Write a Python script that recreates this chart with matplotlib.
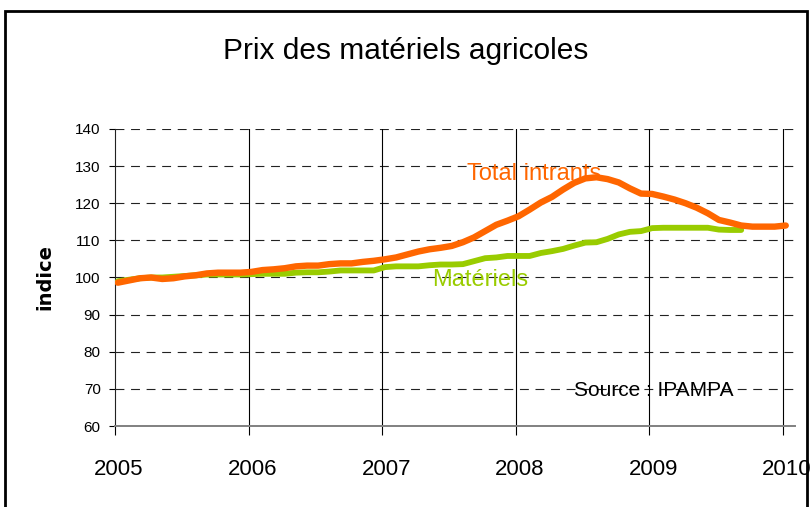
import numpy as np
import matplotlib
matplotlib.use("Agg")
import matplotlib.pyplot as plt
from matplotlib.patches import Rectangle
from matplotlib.transforms import ScaledTranslation

# monthly index values, Jan 2005 -> Jan 2010
total_intrants = [
    98.6, 99.2, 99.8, 100.0, 99.6, 99.8, 100.3, 100.6, 101.1, 101.3, 101.3, 101.3,
    101.5, 102.0, 102.2, 102.5, 103.0, 103.2, 103.2, 103.6, 103.8, 103.8, 104.2, 104.5,
    104.9, 105.4, 106.2, 107.0, 107.6, 108.0, 108.5, 109.5, 110.8, 112.5, 114.2, 115.3,
    116.5, 118.3, 120.2, 121.7, 123.7, 125.5, 126.7, 127.0, 126.5, 125.6, 124.0, 122.6,
    122.5, 121.8, 121.0, 120.0, 118.8, 117.3, 115.5, 114.8, 114.0, 113.7, 113.7, 113.7,
    114.0,
]
materiels = [
    99.0, 99.4, 99.8, 100.0, 100.0, 100.2, 100.4, 100.6, 100.8, 100.8, 100.8, 100.8,
    100.9, 101.0, 101.0, 101.0, 101.3, 101.4, 101.4, 101.6, 101.9, 101.9, 101.9, 101.9,
    102.8, 103.0, 103.0, 103.0, 103.3, 103.5, 103.5, 103.6, 104.4, 105.2, 105.4, 105.8,
    105.8, 105.8, 106.6, 107.1, 107.7, 108.6, 109.4, 109.5, 110.4, 111.6, 112.3, 112.5,
    113.3, 113.4, 113.4, 113.4, 113.4, 113.4, 112.9, 112.8, 112.8,
]
years = [2005, 2006, 2007, 2008, 2009, 2010]
yticks = [60, 70, 80, 90, 100, 110, 120, 130, 140]

C_TOT = "#ff6600"
C_MAT = "#99cc00"

t_tot = 2005 + (np.arange(len(total_intrants)) + 0.25) / 12
t_mat = 2005 + (np.arange(len(materiels)) + 0.25) / 12

fig = plt.figure(figsize=(8.11, 5.07), dpi=100)
ax = fig.add_axes([115 / 811, 81 / 507, 680 / 811, 297 / 507])

ax.plot(t_mat, materiels, color=C_MAT, lw=4.2, solid_capstyle="round", zorder=3)
ax.plot(t_tot, total_intrants, color=C_TOT, lw=4.6, solid_capstyle="round", zorder=4)

ax.set_xlim(2005, 2010.09)
ax.set_ylim(60, 140)

# dashed horizontal grid
for v in yticks[1:]:
    ax.axhline(v, color="#222222", lw=0.8, ls=(0, (8, 6)), zorder=1)
# solid year lines
for yr in years[1:]:
    ax.axvline(yr, color="black", lw=0.8, zorder=1)

ax.set_xticks(years)
ax.set_xticklabels([str(y) for y in years], fontsize=16, family="Liberation Sans")
ax.set_yticks(yticks)
ax.set_yticklabels([str(v) for v in yticks], fontsize=11, family="Liberation Sans")
ax.tick_params(axis="x", direction="out", length=6.5, width=0.8, pad=17)
ax.tick_params(axis="y", direction="out", length=4.3, width=0.8, pad=6)
shift = ScaledTranslation(4 / 100, 0, fig.dpi_scale_trans)
for lab in ax.get_xticklabels():
    lab.set_transform(lab.get_transform() + shift)

for s in ("top", "right"):
    ax.spines[s].set_visible(False)
ax.spines["left"].set_color("#222222")
ax.spines["left"].set_linewidth(0.8)
ax.spines["bottom"].set_color("#808080")
ax.spines["bottom"].set_linewidth(1.4)

ax.text(2008.14, 126.2, "Total intrants", color=C_TOT, fontsize=17,
        family="Liberation Sans", ha="center", va="baseline", zorder=5)
ax.text(2007.73, 97.65, "Matériels", color=C_MAT, fontsize=17,
        family="Liberation Sans", ha="center", va="baseline", zorder=5)
ax.text(2009.03, 68.1, "Source : IPAMPA", color="black", fontsize=15,
        family="Liberation Sans", ha="center", va="baseline", zorder=5)

fig.text(406 / 811, 1 - 51 / 507, "Prix des matériels agricoles", fontsize=21.5,
         family="Liberation Sans", ha="center", va="center")
fig.text(45 / 811, 1 - 277 / 507, "indice", fontsize=14, fontweight="bold",
         family="DejaVu Sans", rotation=90, ha="center", va="center")

fig.add_artist(Rectangle((5 / 811, -0.05), 802 / 811, 1.05 - 11 / 507,
                         transform=fig.transFigure, fill=False,
                         edgecolor="black", lw=2.0))

fig.savefig("out.png", dpi=100)
